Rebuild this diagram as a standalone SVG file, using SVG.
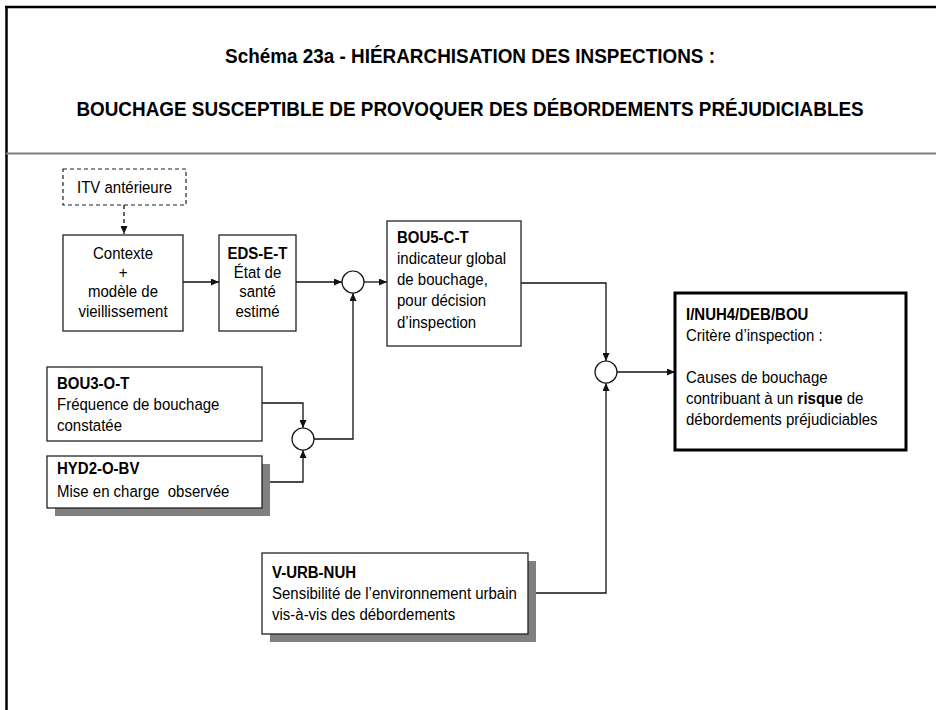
<svg xmlns="http://www.w3.org/2000/svg" width="936" height="710" viewBox="0 0 936 710">
<defs>
<style>
.t{font-family:"Liberation Sans",Arial,sans-serif;font-size:17px;fill:#000}
.b{font-weight:bold}
.c{text-anchor:middle}
.title{font-family:"Liberation Sans",Arial,sans-serif;font-size:21px;font-weight:bold;text-anchor:middle;fill:#000}
.box{fill:#fff;stroke:#222;stroke-width:1.3}
.shadow{fill:#808080}
.ln{fill:none;stroke:#111;stroke-width:1.3}
.j{fill:#fff;stroke:#111;stroke-width:1.2}
</style>
<marker id="ah" markerUnits="userSpaceOnUse" markerWidth="8" markerHeight="7" refX="8" refY="3.5" orient="auto">
<path d="M0,0 L8,3.5 L0,7 z" fill="#111"/>
</marker>
</defs>
<rect x="0" y="0" width="936" height="710" fill="#fff"/>
<g id="frame">
<line x1="5" y1="7" x2="936" y2="7" stroke="#000" stroke-width="2.5"/>
<line x1="6.5" y1="6" x2="6.5" y2="710" stroke="#000" stroke-width="2.5"/>
<line x1="6" y1="153.5" x2="936" y2="153.5" stroke="#808080" stroke-width="2"/>
</g>
<g id="title" transform="translate(470,0) scale(0.9,1)">
<text class="title" x="0" y="63">Schéma 23a - HIÉRARCHISATION DES INSPECTIONS :</text>
<text class="title" x="0" y="116">BOUCHAGE SUSCEPTIBLE DE PROVOQUER DES DÉBORDEMENTS PRÉJUDICIABLES</text>
</g>
<g id="connectors">
<path class="ln" d="M124,205 V234" stroke-dasharray="4,3" marker-end="url(#ah)"/>
<path class="ln" d="M183,282 H219" marker-end="url(#ah)"/>
<path class="ln" d="M296,282 H342" marker-end="url(#ah)"/>
<path class="ln" d="M364,282 H387" marker-end="url(#ah)"/>
<path class="ln" d="M521,283 H606 V361" marker-end="url(#ah)"/>
<path class="ln" d="M617,372 H675" marker-end="url(#ah)"/>
<path class="ln" d="M262,403 H303 V428" marker-end="url(#ah)"/>
<path class="ln" d="M262,482 H303 V450" marker-end="url(#ah)"/>
<path class="ln" d="M314,439 H353 V293" marker-end="url(#ah)"/>
<path class="ln" d="M528,593 H606 V383" marker-end="url(#ah)"/>
</g>
<g id="itv">
<rect x="63" y="169" width="123" height="36" fill="#fff" stroke="#222" stroke-width="1.2" stroke-dasharray="4,3"/>
<g transform="translate(124.5,0) scale(0.882,1)">
<text class="t c" x="0" y="193">ITV antérieure</text>
</g>
</g>
<g id="contexte">
<rect class="box" x="63" y="235" width="120" height="96"/>
<g transform="translate(123,0) scale(0.882,1)">
<text class="t c" x="0" y="259">Contexte</text>
<text class="t c" x="0" y="278.5">+</text>
<text class="t c" x="0" y="297.5">modèle de</text>
<text class="t c" x="0" y="317">vieillissement</text>
</g>
</g>
<g id="eds">
<rect class="box" x="219" y="235" width="77" height="96"/>
<g transform="translate(257.5,0) scale(0.882,1)">
<text class="t c b" x="0" y="259">EDS-E-T</text>
<text class="t c" x="0" y="278.5">État de</text>
<text class="t c" x="0" y="297.5">santé</text>
<text class="t c" x="0" y="317">estimé</text>
</g>
</g>
<g id="j1"><circle class="j" cx="353" cy="282" r="11"/></g>
<g id="bou5">
<rect class="box" x="387" y="221" width="134" height="125"/>
<g transform="translate(397,0) scale(0.882,1)">
<text class="t b" x="0" y="243">BOU5-C-T</text>
<text class="t" x="0" y="264.5">indicateur global</text>
<text class="t" x="0" y="285.5">de bouchage,</text>
<text class="t" x="0" y="306.5">pour décision</text>
<text class="t" x="0" y="328">d’inspection</text>
</g>
</g>
<g id="j2"><circle class="j" cx="606" cy="372" r="11"/></g>
<g id="nuh4">
<rect x="675" y="293" width="231" height="157" fill="#fff" stroke="#000" stroke-width="3"/>
<g transform="translate(686,0) scale(0.882,1)">
<text class="t b" x="0" y="320">I/NUH4/DEB/BOU</text>
<text class="t" x="0" y="341">Critère d’inspection :</text>
<text class="t" x="0" y="383">Causes de bouchage</text>
<text class="t" x="0" y="404">contribuant à un <tspan class="b">risque</tspan> de</text>
<text class="t" x="0" y="425">débordements préjudiciables</text>
</g>
</g>
<g id="bou3">
<rect class="box" x="47" y="367" width="215" height="74"/>
<g transform="translate(57,0) scale(0.882,1)">
<text class="t b" x="0" y="389">BOU3-O-T</text>
<text class="t" x="0" y="410">Fréquence de bouchage</text>
<text class="t" x="0" y="431">constatée</text>
</g>
</g>
<g id="j3"><circle class="j" cx="303" cy="439" r="11"/></g>
<g id="hyd2">
<rect class="shadow" x="55" y="464" width="215" height="52"/>
<rect class="box" x="47" y="456" width="215" height="52"/>
<g transform="translate(57,0) scale(0.882,1)">
<text class="t b" x="0" y="474">HYD2-O-BV</text>
<text class="t" x="0" y="497" xml:space="preserve">Mise en charge  observée</text>
</g>
</g>
<g id="vurb">
<rect class="shadow" x="270" y="561" width="266" height="81"/>
<rect class="box" x="262" y="553" width="266" height="81"/>
<g transform="translate(272,0) scale(0.882,1)">
<text class="t b" x="0" y="578">V-URB-NUH</text>
<text class="t" x="0" y="599">Sensibilité de l’environnement urbain</text>
<text class="t" x="0" y="620">vis-à-vis des débordements</text>
</g>
</g>
</svg>
